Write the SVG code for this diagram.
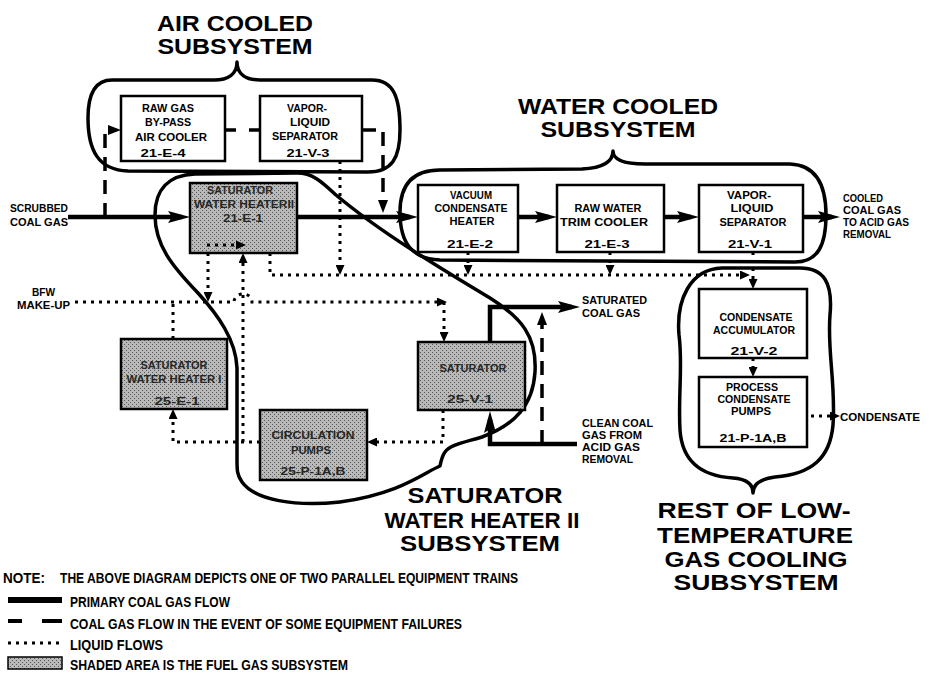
<svg xmlns="http://www.w3.org/2000/svg" width="929" height="675" viewBox="0 0 929 675">
<defs>
<style>
.bg{fill:#fff}
.box{fill:#fff;stroke:#000;stroke-width:2.5}
.sh{fill:url(#shade);stroke:#000;stroke-width:2.5}
.blob{fill:none;stroke:#000;stroke-width:3.5;stroke-linejoin:round}
.thick{fill:none;stroke:#000;stroke-width:4.5}
.dash{fill:none;stroke:#000;stroke-width:3.5;stroke-dasharray:14 9}
.dot{fill:none;stroke:#000;stroke-width:3;stroke-dasharray:3 5}
text{font-family:"Liberation Sans Narrow","Liberation Sans",Arial,sans-serif;font-weight:bold;fill:#000}
.l{font-size:11.5px}
.c{text-anchor:middle}
.sl{fill:#262626}
.t{font-family:"Liberation Sans",Arial,sans-serif;font-size:22px;text-anchor:middle}
.g{font-size:15px}
</style>
<pattern id="shade" width="4" height="4" patternUnits="userSpaceOnUse">
<rect width="4" height="4" fill="#b9b9b9"/>
<rect x="0" y="0" width="1" height="1" fill="#555"/>
<rect x="2" y="2" width="1" height="1" fill="#555"/>
</pattern>
<marker id="ah" viewBox="0 0 22 12" refX="14" refY="6" markerWidth="22" markerHeight="12" markerUnits="userSpaceOnUse" orient="auto"><path d="M0,0 L22,6 L0,12 L4,6 z"/></marker>
<marker id="ahm" viewBox="0 0 13 10" refX="7" refY="5" markerWidth="13" markerHeight="10" markerUnits="userSpaceOnUse" orient="auto"><path d="M0,0 L13,5 L0,10 z"/></marker>
<marker id="ahs" viewBox="0 0 10 9" refX="5" refY="4.5" markerWidth="10" markerHeight="9" markerUnits="userSpaceOnUse" orient="auto"><path d="M0,0 L10,4.5 L0,9 z"/></marker>
</defs>
<rect class="bg" width="929" height="675"/>

<g id="subsystems">
<g id="air-cooled-subsystem">
<path class="blob" d="M 237,62 C 237,74 228,80 214,80 L 112,80 C 96,80 88,92 88,118 C 88,150 98,170 128,171 L 368,172 C 392,172 400,158 400,130 C 400,98 394,80 372,80 L 260,80 C 246,80 237,74 237,62 Z"/>
<text class="t" x="235" y="31" textLength="156" lengthAdjust="spacingAndGlyphs">AIR COOLED</text>
<text class="t" x="235" y="54" textLength="155" lengthAdjust="spacingAndGlyphs">SUBSYSTEM</text>
</g>
<g id="water-cooled-subsystem">
<path class="blob" d="M 613,151 C 613,162 602,168 582,169 L 440,170 C 412,170 400,185 400,212 C 400,243 412,259 440,260 L 795,262 C 818,262 826,245 826,215 C 826,183 815,165 790,164 L 645,164 C 624,164 613,160 613,151 Z"/>
<text class="t" x="618" y="114" textLength="200" lengthAdjust="spacingAndGlyphs">WATER COOLED</text>
<text class="t" x="618" y="137" textLength="155" lengthAdjust="spacingAndGlyphs">SUBSYSTEM</text>
</g>
<g id="saturator-water-heater-ii-subsystem">
<path class="blob" d="M 155,215 C 155,190 168,175 195,174 L 297,173 C 313,173 322,182 336,195 C 380,232 440,268 490,298 C 522,318 537,337 535,372 C 533,405 515,425 482,437 C 462,443 450,445 445,452 C 442,456 441,461 440,466 C 425,472 400,494 340,502 C 295,507 255,500 242,482 C 237,475 237,470 237,460 L 237,368 C 236,340 218,315 198,293 C 172,266 155,245 155,215 Z"/>
<text class="t" x="485" y="503" textLength="155" lengthAdjust="spacingAndGlyphs">SATURATOR</text>
<text class="t" x="482" y="528" textLength="195" lengthAdjust="spacingAndGlyphs">WATER HEATER II</text>
<text class="t" x="480" y="551" textLength="160" lengthAdjust="spacingAndGlyphs">SUBSYSTEM</text>
</g>
<g id="rest-subsystem">
<path class="blob" d="M 753,493 C 753,484 747,479 733,478 C 700,476 682,460 680,430 C 678,395 683,365 679,335 C 676,300 690,269 722,268 L 800,268 C 824,268 833,283 830,315 C 827,350 836,385 833,425 C 830,458 812,474 775,477 C 760,479 753,484 753,493 Z"/>
<text class="t" x="754" y="518" textLength="193" lengthAdjust="spacingAndGlyphs">REST OF LOW-</text>
<text class="t" x="755" y="543" textLength="196" lengthAdjust="spacingAndGlyphs">TEMPERATURE</text>
<text class="t" x="756" y="567" textLength="183" lengthAdjust="spacingAndGlyphs">GAS COOLING</text>
<text class="t" x="756" y="590" textLength="165" lengthAdjust="spacingAndGlyphs">SUBSYSTEM</text>
</g>
</g>

<g id="connectors">
<path class="thick" d="M 68,217 H 182" marker-end="url(#ah)"/>
<path class="thick" d="M 297,217 H 410" marker-end="url(#ah)"/>
<path class="thick" d="M 518,217 H 549" marker-end="url(#ah)"/>
<path class="thick" d="M 664,217 H 691" marker-end="url(#ah)"/>
<path class="thick" d="M 803,217 H 832" marker-end="url(#ah)"/>
<path class="thick" d="M 490,342 V 307 H 572" marker-end="url(#ah)"/>
<path class="thick" d="M 577,444 H 490 V 419" marker-end="url(#ah)"/>
<path class="dash" d="M 105,217 V 130 H 115" marker-end="url(#ahm)"/>
<path class="dash" d="M 225,130 H 260" style="stroke-dasharray:11 13"/>
<path class="dash" d="M 362,130 H 383 V 207" marker-end="url(#ahm)"/>
<path class="dash" d="M 542,444 V 318" marker-end="url(#ahm)"/>
<path class="dot" d="M 75,302 H 234 A 9,8 0 0 1 252,302 H 442" marker-end="url(#ahs)"/>
<path class="dot" d="M 444,302 V 337" marker-end="url(#ahs)"/>
<path class="dot" d="M 208,253 V 297" marker-end="url(#ahs)"/>
<path class="dot" d="M 173,339 V 302"/>
<path class="dot" d="M 260,442 H 173 V 414" marker-end="url(#ahs)"/>
<path class="dot" d="M 243,442 V 258" marker-end="url(#ahs)"/>
<path class="dot" d="M 443,410 V 442 H 372" marker-end="url(#ahs)"/>
<path class="dot" d="M 270,253 V 275 H 745" marker-end="url(#ahs)"/>
<path class="dot" d="M 340,161 V 270" marker-end="url(#ahs)"/>
<path class="dot" d="M 468,252 V 270" marker-end="url(#ahs)"/>
<path class="dot" d="M 610,252 V 270" marker-end="url(#ahs)"/>
<path class="dot" d="M 753,252 V 284" marker-end="url(#ahs)"/>
<path class="dot" d="M 753,358 V 372" marker-end="url(#ahs)"/>
<path class="dot" d="M 811,416 H 835" marker-end="url(#ahs)"/>
</g>

<g id="raw-gas-bypass-air-cooler">
<rect class="box" x="121" y="96" width="104" height="65"/>
<text class="l c" x="168" y="112" textLength="52" lengthAdjust="spacingAndGlyphs">RAW GAS</text>
<text class="l c" x="168" y="126" textLength="46" lengthAdjust="spacingAndGlyphs">BY-PASS</text>
<text class="l c" x="171" y="141" textLength="72" lengthAdjust="spacingAndGlyphs">AIR COOLER</text>
<text class="l c" x="163" y="157" textLength="45" lengthAdjust="spacingAndGlyphs">21-E-4</text>
</g>
<g id="vapor-liquid-separator-21-v-3">
<rect class="box" x="260" y="96" width="102" height="65"/>
<text class="l c" x="307" y="112" textLength="40" lengthAdjust="spacingAndGlyphs">VAPOR-</text>
<text class="l c" x="310" y="126" textLength="40" lengthAdjust="spacingAndGlyphs">LIQUID</text>
<text class="l c" x="305" y="140" textLength="66" lengthAdjust="spacingAndGlyphs">SEPARATOR</text>
<text class="l c" x="308" y="157" textLength="43" lengthAdjust="spacingAndGlyphs">21-V-3</text>
</g>
<g id="saturator-water-heater-ii">
<rect class="sh" x="190" y="183" width="107" height="70"/>
<text class="l c sl" x="240" y="194" textLength="66" lengthAdjust="spacingAndGlyphs">SATURATOR</text>
<text class="l c sl" x="244" y="208" textLength="100" lengthAdjust="spacingAndGlyphs">WATER HEATERII</text>
<text class="l c sl" x="243" y="222" textLength="40" lengthAdjust="spacingAndGlyphs">21-E-1</text>
<path class="dot" d="M 207,245 H 241" marker-end="url(#ahs)"/>
</g>
<g id="vacuum-condensate-heater">
<rect class="box" x="418" y="185" width="100" height="67"/>
<text class="l c" x="471" y="199" textLength="42" lengthAdjust="spacingAndGlyphs">VACUUM</text>
<text class="l c" x="471" y="212" textLength="73" lengthAdjust="spacingAndGlyphs">CONDENSATE</text>
<text class="l c" x="472" y="225" textLength="45" lengthAdjust="spacingAndGlyphs">HEATER</text>
<text class="l c" x="470" y="248" textLength="46" lengthAdjust="spacingAndGlyphs">21-E-2</text>
</g>
<g id="raw-water-trim-cooler">
<rect class="box" x="557" y="185" width="107" height="67"/>
<text class="l c" x="608" y="212" textLength="67" lengthAdjust="spacingAndGlyphs">RAW WATER</text>
<text class="l c" x="604" y="226" textLength="88" lengthAdjust="spacingAndGlyphs">TRIM COOLER</text>
<text class="l c" x="607" y="248" textLength="45" lengthAdjust="spacingAndGlyphs">21-E-3</text>
</g>
<g id="vapor-liquid-separator-21-v-1">
<rect class="box" x="699" y="185" width="104" height="67"/>
<text class="l c" x="749" y="199" textLength="44" lengthAdjust="spacingAndGlyphs">VAPOR-</text>
<text class="l c" x="752" y="212" textLength="43" lengthAdjust="spacingAndGlyphs">LIQUID</text>
<text class="l c" x="753" y="226" textLength="67" lengthAdjust="spacingAndGlyphs">SEPARATOR</text>
<text class="l c" x="750" y="248" textLength="44" lengthAdjust="spacingAndGlyphs">21-V-1</text>
</g>
<g id="saturator-water-heater-i">
<rect class="sh" x="121" y="339" width="106" height="70"/>
<text class="l c sl" x="174" y="369" textLength="67" lengthAdjust="spacingAndGlyphs">SATURATOR</text>
<text class="l c sl" x="174" y="383" textLength="95" lengthAdjust="spacingAndGlyphs">WATER HEATER I</text>
<text class="l c sl" x="177" y="405" textLength="45" lengthAdjust="spacingAndGlyphs">25-E-1</text>
</g>
<g id="saturator">
<rect class="sh" x="418" y="342" width="107" height="68"/>
<text class="l c sl" x="473" y="372" textLength="67" lengthAdjust="spacingAndGlyphs">SATURATOR</text>
<text class="l c sl" x="470" y="403" textLength="46" lengthAdjust="spacingAndGlyphs">25-V-1</text>
</g>
<g id="circulation-pumps">
<rect class="sh" x="260" y="410" width="107" height="70"/>
<text class="l c sl" x="313" y="439" textLength="83" lengthAdjust="spacingAndGlyphs">CIRCULATION</text>
<text class="l c sl" x="311" y="454" textLength="40" lengthAdjust="spacingAndGlyphs">PUMPS</text>
<text class="l c sl" x="313" y="475" textLength="65" lengthAdjust="spacingAndGlyphs">25-P-1A,B</text>
</g>
<g id="condensate-accumulator">
<rect class="box" x="699" y="289" width="108" height="69"/>
<text class="l c" x="756" y="321" textLength="73" lengthAdjust="spacingAndGlyphs">CONDENSATE</text>
<text class="l c" x="754" y="334" textLength="82" lengthAdjust="spacingAndGlyphs">ACCUMULATOR</text>
<text class="l c" x="754" y="355" textLength="47" lengthAdjust="spacingAndGlyphs">21-V-2</text>
</g>
<g id="process-condensate-pumps">
<rect class="box" x="699" y="377" width="108" height="70"/>
<text class="l c" x="752" y="391" textLength="52" lengthAdjust="spacingAndGlyphs">PROCESS</text>
<text class="l c" x="754" y="403" textLength="73" lengthAdjust="spacingAndGlyphs">CONDENSATE</text>
<text class="l c" x="751" y="415" textLength="40" lengthAdjust="spacingAndGlyphs">PUMPS</text>
<text class="l c" x="753" y="442" textLength="67" lengthAdjust="spacingAndGlyphs">21-P-1A,B</text>
</g>

<g id="stream-labels">
<text class="l" x="10" y="212" textLength="58" lengthAdjust="spacingAndGlyphs">SCRUBBED</text>
<text class="l" x="10" y="226" textLength="58" lengthAdjust="spacingAndGlyphs">COAL GAS</text>
<text class="l" x="32" y="296" textLength="23" lengthAdjust="spacingAndGlyphs">BFW</text>
<text class="l" x="17" y="309" textLength="53" lengthAdjust="spacingAndGlyphs">MAKE-UP</text>
<text class="l" x="582" y="304" textLength="65" lengthAdjust="spacingAndGlyphs">SATURATED</text>
<text class="l" x="582" y="317" textLength="58" lengthAdjust="spacingAndGlyphs">COAL GAS</text>
<text class="l" x="582" y="427" textLength="71" lengthAdjust="spacingAndGlyphs">CLEAN COAL</text>
<text class="l" x="582" y="439" textLength="60" lengthAdjust="spacingAndGlyphs">GAS FROM</text>
<text class="l" x="582" y="451" textLength="58" lengthAdjust="spacingAndGlyphs">ACID GAS</text>
<text class="l" x="582" y="463" textLength="51" lengthAdjust="spacingAndGlyphs">REMOVAL</text>
<text class="l" x="843" y="202" textLength="40" lengthAdjust="spacingAndGlyphs">COOLED</text>
<text class="l" x="843" y="214" textLength="58" lengthAdjust="spacingAndGlyphs">COAL GAS</text>
<text class="l" x="843" y="226" textLength="66" lengthAdjust="spacingAndGlyphs">TO ACID GAS</text>
<text class="l" x="843" y="238" textLength="48" lengthAdjust="spacingAndGlyphs">REMOVAL</text>
<text class="l" x="840" y="421" textLength="80" lengthAdjust="spacingAndGlyphs">CONDENSATE</text>
</g>

<g id="legend">
<text class="g" x="3" y="583" textLength="42" lengthAdjust="spacingAndGlyphs">NOTE:</text>
<text class="g" x="60" y="583" textLength="458" lengthAdjust="spacingAndGlyphs">THE ABOVE DIAGRAM DEPICTS ONE OF TWO PARALLEL EQUIPMENT TRAINS</text>
<path d="M 8,600 H 62" stroke="#000" stroke-width="6"/>
<text class="g" x="70" y="607" textLength="160" lengthAdjust="spacingAndGlyphs">PRIMARY COAL GAS FLOW</text>
<path d="M 8,621 H 22 M 42,621 H 62" stroke="#000" stroke-width="4"/>
<text class="g" x="70" y="629" textLength="392" lengthAdjust="spacingAndGlyphs">COAL GAS FLOW IN THE EVENT OF SOME EQUIPMENT FAILURES</text>
<path class="dot" d="M 8,643 H 62"/>
<text class="g" x="70" y="650" textLength="93" lengthAdjust="spacingAndGlyphs">LIQUID FLOWS</text>
<rect x="8" y="657" width="54" height="12" fill="url(#shade)" stroke="#000" stroke-width="1.5"/>
<text class="g" x="70" y="670" textLength="278" lengthAdjust="spacingAndGlyphs">SHADED AREA IS THE FUEL GAS SUBSYSTEM</text>
</g>
</svg>
